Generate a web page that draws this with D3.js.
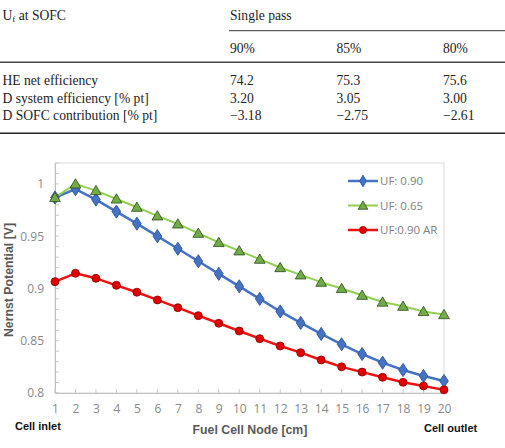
<!DOCTYPE html>
<html><head><meta charset="utf-8">
<script src="https://cdn.jsdelivr.net/npm/d3@7"></script>
<style>html,body{margin:0;padding:0;background:#fff;}svg{display:block;}</style>
</head><body>
<svg id="c" width="505" height="448"></svg>
<script>
// ---- table data ----
const tableCols = ["90%", "85%", "80%"];
const tableRows = ["HE net efficiency", "D system efficiency [% pt]", "D SOFC contribution [% pt]"];
const tableVals = [["74.2", "75.3", "75.6"], ["3.20", "3.05", "3.00"], ["\u22123.18", "\u22122.75", "\u22122.61"]];

// ---- chart data ----
const nodes = [1,2,3,4,5,6,7,8,9,10,11,12,13,14,15,16,17,18,19,20];
const uf090 = [0.987,0.995,0.985,0.9735,0.962,0.950,0.938,0.926,0.914,0.902,0.890,0.878,0.867,0.8565,0.8466,0.8373,0.829,0.822,0.8163,0.8115];
const uf065 = [0.987,1.000,0.9936,0.9856,0.9777,0.9694,0.9617,0.9528,0.944,0.936,0.928,0.920,0.913,0.906,0.900,0.8935,0.887,0.883,0.878,0.875];
const uf090ar = [0.9065,0.9145,0.9097,0.903,0.8964,0.889,0.8816,0.874,0.8667,0.8593,0.852,0.845,0.8386,0.8316,0.825,0.820,0.815,0.8102,0.8067,0.803];
const seriesNames = ["UF: 0.90", "UF: 0.65", "UF:0.90 AR"];
const yTicks = [0.8, 0.85, 0.9, 0.95, 1];

const svg = d3.select("#c");

// ---- table ----
const serif = "'Liberation Serif', 'Times New Roman', serif";
const tg = svg.append("g").attr("font-family", serif).attr("font-size", 13.6).attr("fill", "#222");
const colX = d3.scaleOrdinal().domain(tableCols).range([230, 336.5, 443]);
const t0 = tg.append("text").attr("x", 2.5).attr("y", 19.5);
t0.append("tspan").text("U");
t0.append("tspan").attr("font-size", 9).attr("dy", 2).text("f");
t0.append("tspan").attr("dy", -2).text(" at SOFC");
tg.append("text").attr("x", 230).attr("y", 19.5).text("Single pass");
tg.append("line").attr("x1", 229).attr("x2", 505).attr("y1", 30.7).attr("y2", 30.7).attr("stroke", "#333").attr("stroke-width", 1);
tg.selectAll("text.col").data(tableCols).join("text").attr("class", "col")
  .attr("x", d => colX(d)).attr("y", 53).text(d => d);
tg.append("line").attr("x1", 0).attr("x2", 505).attr("y1", 62.3).attr("y2", 62.3).attr("stroke", "#444").attr("stroke-width", 1.5);
const rowY = d3.scalePoint().domain(tableRows).range([85.2, 120.2]);
tg.selectAll("text.row").data(tableRows).join("text").attr("class", "row")
  .attr("x", 2.5).attr("y", d => rowY(d)).text(d => d);
tableRows.forEach((r, i) => {
  tg.selectAll("text.v" + i).data(tableVals[i]).join("text").attr("class", "v" + i)
    .attr("x", (d, j) => colX(tableCols[j])).attr("y", rowY(r)).text(d => d);
});
tg.append("line").attr("x1", 0).attr("x2", 505).attr("y1", 133.3).attr("y2", 133.3).attr("stroke", "#222").attr("stroke-width", 1.5);

// ---- chart ----
const sans = "'Open Sans', 'Liberation Sans', sans-serif";
const bold = "'Liberation Sans', Arial, sans-serif";
const L = 55, R = 444, T = 163, B = 393;
const x = d3.scaleLinear().domain([1, 20]).range([L, R]);
const y = d3.scaleLinear().domain([0.8, 1.02]).range([B, T]);
const g = svg.append("g").attr("font-family", sans);

// border
g.append("rect").attr("x", L).attr("y", T).attr("width", R - L).attr("height", B - T)
  .attr("fill", "none").attr("stroke", "#d9d9d9").attr("stroke-width", 1);

// y axis
const yAxis = d3.axisLeft(y).tickValues(yTicks).tickFormat(d => d3.format("")(+d.toFixed(2))).tickSize(0).tickPadding(11);
const ya = g.append("g").attr("transform", `translate(${L},0)`).call(yAxis);
ya.select(".domain").attr("stroke", "#bfbfbf");
ya.selectAll("text").attr("fill", "#888").attr("font-size", 12).attr("font-family", sans);
const yMinor = d3.range(80, 103).map(v => v / 100);
g.append("g").selectAll("line").data(yMinor).join("line")
  .attr("x1", L).attr("x2", L + 4).attr("y1", d => y(d)).attr("y2", d => y(d))
  .attr("stroke", "#c8c8c8").attr("stroke-width", 1);

// x axis
const xAxis = d3.axisBottom(x).tickValues(nodes).tickFormat(d3.format("d")).tickSize(0).tickPadding(11);
const xa = g.append("g").attr("transform", `translate(0,${B})`).call(xAxis);
xa.select(".domain").attr("stroke", "#bfbfbf");
xa.selectAll("text").attr("fill", "#888").attr("font-size", 12).attr("font-family", sans);
g.append("g").selectAll("line").data(nodes).join("line")
  .attr("x1", d => x(d)).attr("x2", d => x(d)).attr("y1", B).attr("y2", B - 4)
  .attr("stroke", "#c8c8c8").attr("stroke-width", 1);

// axis titles
g.append("text").attr("transform", `translate(12.5,280) rotate(-90)`)
  .attr("text-anchor", "middle").attr("font-family", bold).attr("font-weight", "bold").attr("font-size", 12.3).attr("fill", "#595959")
  .text("Nernst Potential [V]");
g.append("text").attr("x", 250).attr("y", 434).attr("text-anchor", "middle").attr("font-family", bold)
  .attr("font-weight", "bold").attr("font-size", 12.3).attr("fill", "#595959").text("Fuel Cell Node [cm]");
g.append("text").attr("x", 15).attr("y", 430).attr("font-family", bold).attr("font-weight", "bold").attr("font-size", 11).attr("fill", "#111").text("Cell inlet");
g.append("text").attr("x", 424).attr("y", 432).attr("font-family", bold).attr("font-weight", "bold").attr("font-size", 11).attr("fill", "#111").text("Cell outlet");

// series
const series = [
  {name: seriesNames[0], vals: uf090, line: "#4472c4", fill: "#4472c4", stroke: "#2f528f", sym: d3.symbolDiamond, size: 50, w: 2.5},
  {name: seriesNames[1], vals: uf065, line: "#92d050", fill: "#70ad47", stroke: "#2d4a1a", sym: d3.symbolTriangle, size: 50, w: 2},
  {name: seriesNames[2], vals: uf090ar, line: "#ee1111", fill: "#e00000", stroke: "#8b0000", sym: d3.symbolCircle, size: 50, w: 2.5}
];
const line = d3.line().x((d, i) => x(nodes[i])).y(d => y(d));
series.forEach(s => {
  g.append("path").datum(s.vals).attr("d", line).attr("fill", "none")
    .attr("stroke", s.line).attr("stroke-width", s.w).attr("stroke-linejoin", "round");
});
series.forEach(s => {
  const sym = d3.symbol().type(s.sym).size(s.size);
  g.append("g").selectAll("path").data(s.vals).join("path")
    .attr("d", sym)
    .attr("transform", (d, i) => `translate(${x(nodes[i])},${y(d) + (s.sym === d3.symbolTriangle ? 1 : 0)})` + (s.sym === d3.symbolDiamond ? " scale(1.15,1)" : ""))
    .attr("fill", s.fill).attr("stroke", s.stroke).attr("stroke-width", 0.8);
});

// legend
const legY = d3.scalePoint().domain(seriesNames).range([181, 230]);
series.forEach(s => {
  const ly = legY(s.name);
  g.append("line").attr("x1", 348).attr("x2", 378).attr("y1", ly).attr("y2", ly)
    .attr("stroke", s.line).attr("stroke-width", s.w);
  const sym = d3.symbol().type(s.sym).size(s.size * 0.8);
  g.append("path").attr("d", sym).attr("transform", `translate(363,${ly + (s.sym === d3.symbolTriangle ? 1 : 0)})`)
    .attr("fill", s.fill).attr("stroke", s.stroke).attr("stroke-width", 0.8);
  g.append("text").attr("x", 380).attr("y", ly).attr("dy", "0.35em")
    .attr("font-size", 11.5).attr("fill", "#808080").text(s.name);
});
</script>
</body></html>
